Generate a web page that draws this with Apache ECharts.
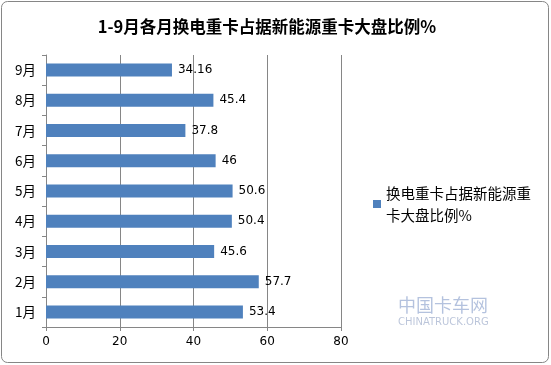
<!DOCTYPE html>
<html><head><meta charset="utf-8">
<script src="https://cdn.jsdelivr.net/npm/echarts@6/dist/echarts.min.js"></script>
<style>html,body{margin:0;padding:0;background:#fff}#c{width:551px;height:365px}</style>
</head><body><div id="c"></div>
<script>
const categories = ['1月','2月','3月','4月','5月','6月','7月','8月','9月'];
const values = [53.4, 57.7, 45.6, 50.4, 50.6, 46, 37.8, 45.4, 34.16];
const seriesName = '换电重卡占据新能源重卡大盘比例%';
const titleText = '1-9月各月换电重卡占据新能源重卡大盘比例%';
const font = '"DejaVu Sans","Noto Sans CJK SC",sans-serif';
const chart = echarts.init(document.getElementById('c'));
chart.setOption({
  animation:false,
  backgroundColor:'#fff',
  title:{text:titleText,left:262,top:13,textAlign:'center',
    textStyle:{fontFamily:'"Noto Sans CJK SC",sans-serif',fontSize:16.5,fontWeight:'bold',color:'#000'}},
  grid:{left:46,right:210,top:55,bottom:38},
  legend:{left:368,top:177,itemWidth:8,itemHeight:8,icon:'rect',itemGap:4,
    formatter:()=> '换电重卡占据新能源重\n卡大盘比例%',
    textStyle:{fontFamily:'"Noto Sans CJK SC",sans-serif',fontSize:14.5,color:'#000',lineHeight:22}},
  xAxis:{type:'value',min:0,max:80,interval:20,
    axisLine:{show:true,lineStyle:{color:'#868686'}},
    axisTick:{show:true,length:4,lineStyle:{color:'#868686'}},
    splitLine:{show:true,lineStyle:{color:'#868686'}},
    axisLabel:{fontFamily:font,fontSize:12,color:'#000',margin:9}},
  yAxis:{type:'category',data:categories,
    axisLine:{show:true,lineStyle:{color:'#868686'}},
    axisTick:{show:true,length:4,lineStyle:{color:'#868686'}},
    axisLabel:{fontFamily:'"Noto Sans CJK SC",sans-serif',fontSize:13.5,color:'#000',margin:10}},
  series:[{name:seriesName,type:'bar',data:values,barWidth:13,
    itemStyle:{color:'#4f81bd'},
    label:{show:true,position:'right',distance:6,fontFamily:font,fontSize:12,color:'#000'}}],
  graphic:[
    {type:'rect',shape:{x:1.5,y:1.5,width:547,height:361,r:6},
     style:{fill:null,stroke:'#868686',lineWidth:1},silent:true},
    {type:'text',left:398,top:296,style:{text:'中国卡车网',fontSize:18,fill:'rgba(40,80,160,0.35)',fontFamily:'"Noto Sans CJK SC",sans-serif'}},
    {type:'text',left:398,top:317,style:{text:'CHINATRUCK.ORG',fontSize:10,fill:'rgba(60,90,150,0.35)',fontFamily:'"DejaVu Sans",sans-serif'}}
  ]
});
</script></body></html>
